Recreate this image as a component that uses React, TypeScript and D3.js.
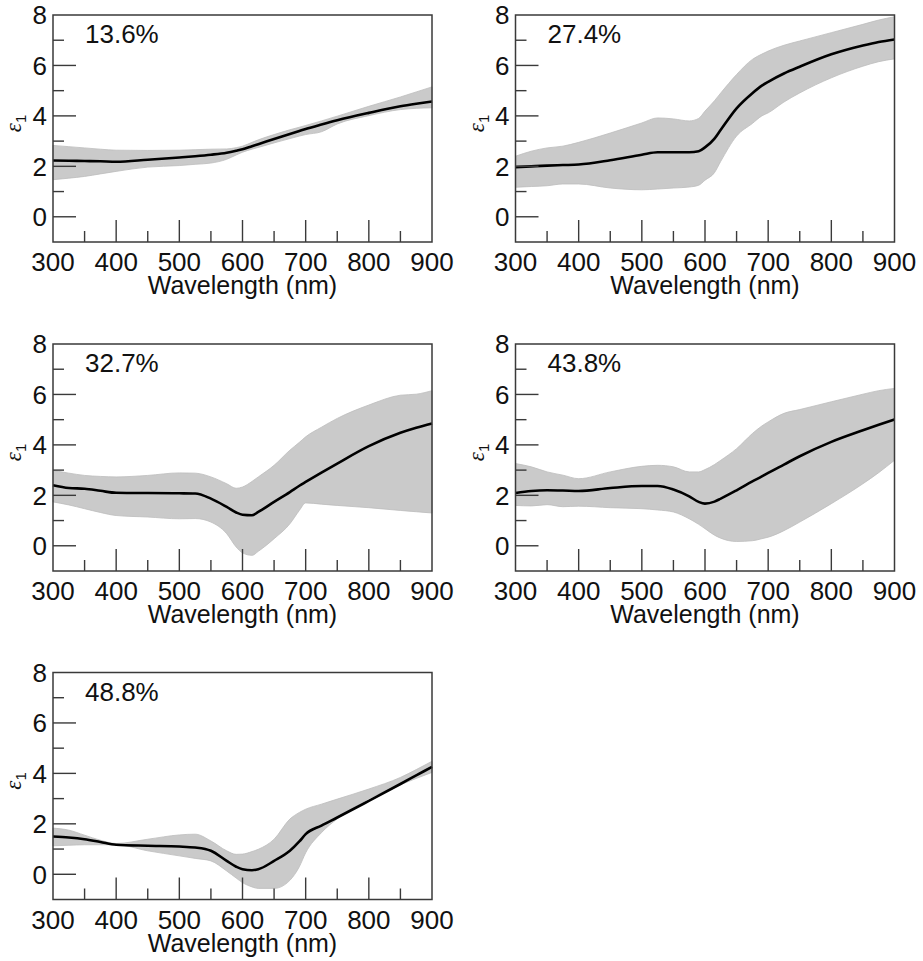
import React from 'react';
import * as d3 from 'd3';

// wavelength grid (nm), shared by every panel
const wl = [300, 325, 350, 375, 400, 450, 500, 525, 550, 575, 590, 600, 615, 625, 650, 675, 690, 700, 725, 750, 800, 850, 875, 900];

const labels = ['13.6%', '27.4%', '32.7%', '43.8%', '48.8%'];

// 13.6%
const mean1 = [2.23, 2.22, 2.21, 2.2, 2.18, 2.26, 2.35, 2.4, 2.46, 2.54, 2.62, 2.68, 2.8, 2.88, 3.08, 3.28, 3.4, 3.48, 3.66, 3.83, 4.12, 4.38, 4.48, 4.57];
const hi1 = [2.83, 2.78, 2.73, 2.68, 2.64, 2.63, 2.64, 2.66, 2.68, 2.69, 2.74, 2.8, 2.95, 3.05, 3.26, 3.45, 3.55, 3.62, 3.8, 3.99, 4.38, 4.75, 4.95, 5.15];
const lo1 = [1.47, 1.53, 1.6, 1.7, 1.8, 1.97, 2.03, 2.08, 2.13, 2.28, 2.45, 2.56, 2.68, 2.75, 2.93, 3.1, 3.2, 3.26, 3.37, 3.68, 4.01, 4.25, 4.3, 4.32];

// 27.4%
const mean2 = [1.97, 2.0, 2.03, 2.05, 2.07, 2.24, 2.46, 2.56, 2.56, 2.56, 2.6, 2.75, 3.1, 3.45, 4.3, 4.9, 5.2, 5.35, 5.68, 5.95, 6.44, 6.79, 6.93, 7.03];
const hi2 = [2.4, 2.6, 2.73, 2.8, 2.95, 3.32, 3.72, 3.92, 3.88, 3.8, 3.9, 4.19, 4.6, 4.91, 5.64, 6.24, 6.45, 6.57, 6.8, 6.97, 7.3, 7.63, 7.8, 7.93];
const lo2 = [1.17, 1.2, 1.23, 1.3, 1.3, 1.14, 1.07, 1.1, 1.14, 1.18, 1.25, 1.45, 1.75, 2.2, 3.2, 3.7, 4.0, 4.12, 4.55, 4.91, 5.51, 5.97, 6.15, 6.26];

// 32.7%
const mean3 = [2.4, 2.29, 2.26, 2.18, 2.1, 2.09, 2.08, 2.07, 1.87, 1.54, 1.32, 1.23, 1.21, 1.34, 1.74, 2.13, 2.38, 2.53, 2.9, 3.26, 3.95, 4.48, 4.68, 4.85];
const hi3 = [2.99, 2.88, 2.79, 2.75, 2.73, 2.79, 2.89, 2.88, 2.73, 2.46, 2.28, 2.33, 2.55, 2.73, 3.19, 3.79, 4.1, 4.32, 4.7, 5.05, 5.58, 5.97, 6.01, 6.15];
const lo3 = [1.74, 1.62, 1.47, 1.32, 1.2, 1.14, 1.07, 1.08, 0.94, 0.48, -0.05, -0.28, -0.38, -0.22, 0.28, 0.87, 1.4, 1.7, 1.65, 1.6, 1.51, 1.4, 1.35, 1.3];

// 43.8%
const mean4 = [2.09, 2.17, 2.2, 2.19, 2.17, 2.29, 2.37, 2.37, 2.23, 1.96, 1.74, 1.67, 1.75, 1.87, 2.2, 2.55, 2.75, 2.89, 3.22, 3.55, 4.12, 4.58, 4.8, 5.01];
const hi4 = [3.26, 3.13, 2.93, 2.8, 2.66, 2.93, 3.15, 3.19, 3.13, 2.93, 2.93, 3.02, 3.22, 3.39, 3.85, 4.45, 4.75, 4.91, 5.25, 5.4, 5.71, 6.01, 6.15, 6.24];
const lo4 = [1.6, 1.58, 1.63, 1.55, 1.57, 1.51, 1.47, 1.42, 1.34, 1.07, 0.85, 0.68, 0.42, 0.3, 0.17, 0.2, 0.28, 0.34, 0.6, 0.94, 1.67, 2.46, 2.9, 3.39];

// 48.8%
const mean5 = [1.5, 1.46, 1.39, 1.28, 1.17, 1.13, 1.1, 1.06, 0.93, 0.53, 0.3, 0.2, 0.16, 0.2, 0.53, 0.93, 1.3, 1.59, 1.93, 2.25, 2.91, 3.58, 3.92, 4.26];
const hi5 = [1.83, 1.75, 1.55, 1.35, 1.22, 1.39, 1.56, 1.59, 1.32, 0.93, 0.79, 0.8, 0.9, 0.99, 1.39, 2.19, 2.45, 2.58, 2.78, 2.98, 3.38, 3.84, 4.15, 4.48];
const lo5 = [1.13, 1.15, 1.17, 1.17, 1.17, 0.93, 0.73, 0.63, 0.53, 0.13, -0.15, -0.33, -0.5, -0.56, -0.56, -0.24, 0.3, 0.85, 1.65, 2.2, 3.0, 3.55, 3.8, 4.04];

const xTicksMajor = [300, 400, 500, 600, 700, 800, 900];
const xTicksMinor = [350, 450, 550, 650, 750, 850];
const yTicksMajor = [0, 2, 4, 6, 8];
const yTicksMinor = [1, 3, 5, 7];

const panels = [
  { label: labels[0], mean: mean1, hi: hi1, lo: lo1, x: 53, y: 15 },
  { label: labels[1], mean: mean2, hi: hi2, lo: lo2, x: 515.5, y: 15 },
  { label: labels[2], mean: mean3, hi: hi3, lo: lo3, x: 53, y: 344 },
  { label: labels[3], mean: mean4, hi: hi4, lo: lo4, x: 515.5, y: 344 },
  { label: labels[4], mean: mean5, hi: hi5, lo: lo5, x: 53, y: 672.5 },
];

const W = 379;
const H = 227;
const font = "'Liberation Sans', Arial, sans-serif";
const frameColor = '#3a3a3a';

const Panel = ({ p }: { p: any }) => {
  const xScale = d3.scaleLinear().domain([300, 900]).range([0, W]);
  const yScale = d3.scaleLinear().domain([-1, 8]).range([H, 0]);

  const band = d3.area<number>()
    .x((d, i) => xScale(wl[i]))
    .y0((d, i) => yScale(p.lo[i]))
    .y1((d, i) => yScale(p.hi[i]))
    .curve(d3.curveMonotoneX);

  const line = d3.line<number>()
    .x((d, i) => xScale(wl[i]))
    .y(d => yScale(d))
    .curve(d3.curveMonotoneX);

  return (
    <g transform={`translate(${p.x},${p.y})`}>
      <path d={band(p.mean) || ''} fill="#cacaca" stroke="#bcbcbc" strokeWidth={0.8} />
      <path d={line(p.mean) || ''} fill="none" stroke="#000" strokeWidth={2.6} />

      {/* ticks, inward */}
      {xTicksMajor.slice(1, -1).map(t => (
        <line key={'xM' + t} x1={xScale(t)} x2={xScale(t)} y1={H} y2={H - 22} stroke={frameColor} strokeWidth={1.4} />
      ))}
      {xTicksMinor.map(t => (
        <line key={'xm' + t} x1={xScale(t)} x2={xScale(t)} y1={H} y2={H - 11} stroke={frameColor} strokeWidth={1.4} />
      ))}
      {yTicksMajor.slice(0, -1).map(t => (
        <line key={'yM' + t} x1={0} x2={23} y1={yScale(t)} y2={yScale(t)} stroke={frameColor} strokeWidth={1.4} />
      ))}
      {yTicksMinor.map(t => (
        <line key={'ym' + t} x1={0} x2={11} y1={yScale(t)} y2={yScale(t)} stroke={frameColor} strokeWidth={1.4} />
      ))}

      <rect x={0} y={0} width={W} height={H} fill="none" stroke={frameColor} strokeWidth={1.5} />

      {/* tick labels */}
      {xTicksMajor.map(t => (
        <text key={'xl' + t} x={xScale(t)} y={H + 29} textAnchor="middle" fontSize={26} fontFamily={font} fill="#111">{t}</text>
      ))}
      {yTicksMajor.map(t => (
        <text key={'yl' + t} x={-6} y={yScale(t)} dy="0.36em" textAnchor="end" fontSize={26} fontFamily={font} fill="#111">{t}</text>
      ))}

      <text x={32} y={28} fontSize={26} fontFamily={font} fill="#111">{p.label}</text>

      <text x={W / 2} y={H + 52} textAnchor="middle" fontSize={25} fontFamily={font} fill="#111">Wavelength (nm)</text>

      <text transform={`translate(${-32},${yScale(3.7)}) rotate(-90)`} textAnchor="middle" fill="#111">
        <tspan fontSize={23} fontStyle="italic" fontFamily="'Liberation Serif', serif">ε</tspan>
        <tspan fontSize={15} fontFamily={font} dy={5}>1</tspan>
      </text>
    </g>
  );
};

const App = () => {
  return (
    <svg width={923} height={961} style={{ position: 'absolute', left: 0, top: 0, background: '#fff' }}>
      <rect width={923} height={961} fill="#fff" />
      {panels.map((p, i) => <Panel key={i} p={p} />)}
    </svg>
  );
};

export default App;
